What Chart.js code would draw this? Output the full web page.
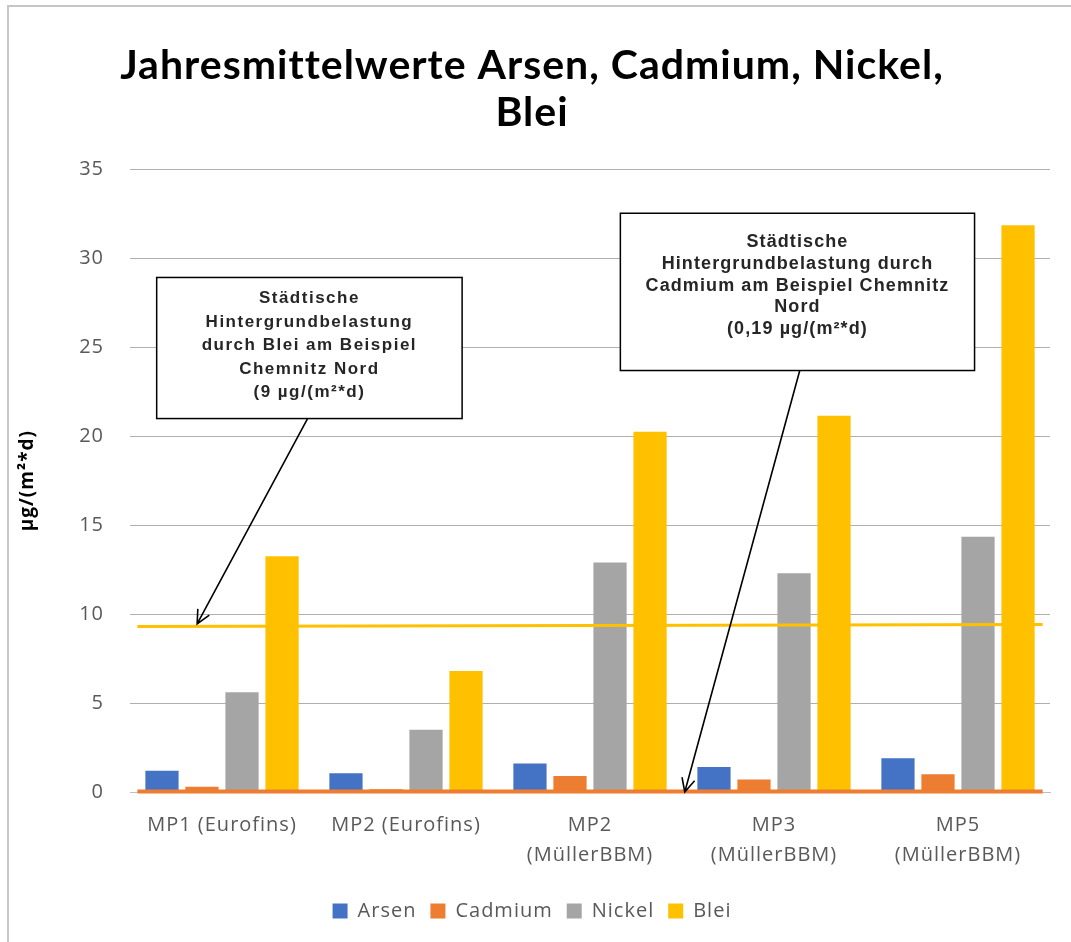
<!DOCTYPE html>
<html>
<head>
<meta charset="utf-8">
<script src="https://cdn.jsdelivr.net/npm/chart.js"></script>
<style>
  html, body { margin: 0; padding: 0; background: #fff; }
  #frame { position: absolute; left: 7px; top: 5px; width: 1100px; height: 960px;
           border-left: 2px solid #c6c6c6; border-top: 2px solid #c6c6c6; }
  #wrap { position: absolute; left: 0; top: 0; width: 1071px; height: 942px; }
</style>
</head>
<body>
<div id="frame"></div>
<div id="wrap"><canvas id="chart"></canvas></div>
<script>
// categories + series
const categories = ['MP1 (Eurofins)', 'MP2 (Eurofins)', ['MP2', '(MüllerBBM)'], ['MP3', '(MüllerBBM)'], ['MP5', '(MüllerBBM)']];
const arsen   = [1.2, 1.05, 1.6, 1.4, 1.9];
const cadmium = [0.3, 0.15, 0.9, 0.7, 1.0];
const nickel  = [5.6, 3.5, 12.9, 12.3, 14.35];
const blei    = [13.25, 6.8, 20.25, 21.15, 31.85];
// background lines (value at left end / right end of the plot)
const bleiBackground    = [9.3, 9.42];
const cadmiumBackground = [0.03, 0.03];
const yTicks = [0, 5, 10, 15, 20, 25, 30, 35];

const titleLines = ['Jahresmittelwerte Arsen, Cadmium, Nickel,', 'Blei'];

// callout boxes, x as fraction of plot width, y in data units
const callouts = [
  {
    lines: ['Städtische', 'Hintergrundbelastung', 'durch Blei am Beispiel', 'Chemnitz Nord', '(9 µg/(m²*d)'],
    left: 0.029, right: 0.361, top: 28.92, bottom: 20.99,
    from: [0.193, 20.99], to: [0.073, 9.45],
    firstLine: 21, lineGap: 23.5, font: 'bold 17px "Liberation Sans", Arial, sans-serif', spacing: '1.5px'
  },
  {
    lines: ['Städtische', 'Hintergrundbelastung durch', 'Cadmium am Beispiel Chemnitz', 'Nord', '(0,19 µg/(m²*d)'],
    left: 0.533, right: 0.918, top: 32.53, bottom: 23.69,
    from: [0.728, 23.69], to: [0.603, 0],
    firstLine: 29, lineGap: 21.7, font: 'bold 18px "Liberation Sans", Arial, sans-serif', spacing: '1.1px'
  }
];

const spacingPlugin = {
  id: 'spacing',
  beforeUpdate(chart) { chart.ctx.letterSpacing = '1px'; },
  beforeDraw(chart) { chart.ctx.letterSpacing = '1px'; }
};

// horizontal background lines, drawn over the bars
const backgroundLinesPlugin = {
  id: 'bgLines',
  afterDatasetsDraw(chart) {
    const ctx = chart.ctx;
    const a = chart.chartArea;
    const ys = chart.scales.y;
    const x0 = a.left + 0.008 * (a.right - a.left);
    const x1 = a.left + 0.992 * (a.right - a.left);
    ctx.save();
    ctx.lineCap = 'butt';
    ctx.beginPath();
    ctx.moveTo(x0, ys.getPixelForValue(cadmiumBackground[0]));
    ctx.lineTo(x1, ys.getPixelForValue(cadmiumBackground[1]));
    ctx.strokeStyle = '#ED7D31';
    ctx.lineWidth = 4;
    ctx.stroke();
    ctx.beginPath();
    ctx.moveTo(x0, ys.getPixelForValue(bleiBackground[0]));
    ctx.lineTo(x1, ys.getPixelForValue(bleiBackground[1]));
    ctx.strokeStyle = '#FFC000';
    ctx.lineWidth = 3;
    ctx.stroke();
    ctx.restore();
  }
};

const calloutPlugin = {
  id: 'callouts',
  afterDraw(chart) {
    const ctx = chart.ctx;
    const a = chart.chartArea;
    const ys = chart.scales.y;
    const px = f => a.left + f * (a.right - a.left);
    callouts.forEach(c => {
      const l = px(c.left), r = px(c.right);
      const t = ys.getPixelForValue(c.top), b = ys.getPixelForValue(c.bottom);
      ctx.save();
      ctx.fillStyle = '#fff';
      ctx.fillRect(l, t, r - l, b - t);
      ctx.strokeStyle = '#000';
      ctx.lineWidth = 1.5;
      ctx.strokeRect(l, t, r - l, b - t);
      ctx.fillStyle = '#262626';
      ctx.font = c.font;
      ctx.letterSpacing = c.spacing;
      ctx.textAlign = 'center';
      ctx.textBaseline = 'middle';
      c.lines.forEach((line, i) => {
        ctx.fillText(line, (l + r) / 2, t + c.firstLine + i * c.lineGap);
      });
      // arrow
      const x1 = px(c.from[0]), y1 = ys.getPixelForValue(c.from[1]);
      const x2 = px(c.to[0]), y2 = ys.getPixelForValue(c.to[1]);
      ctx.beginPath();
      ctx.moveTo(x1, y1);
      ctx.lineTo(x2, y2);
      const ang = Math.atan2(y2 - y1, x2 - x1);
      const hl = 15;
      ctx.moveTo(x2 - hl * Math.cos(ang - 0.45), y2 - hl * Math.sin(ang - 0.45));
      ctx.lineTo(x2, y2);
      ctx.lineTo(x2 - hl * Math.cos(ang + 0.45), y2 - hl * Math.sin(ang + 0.45));
      ctx.strokeStyle = '#000';
      ctx.lineWidth = 1.6;
      ctx.stroke();
      ctx.restore();
    });
  }
};

const labelFont = '"Open Sans", sans-serif';

new Chart(document.getElementById('chart'), {
  type: 'bar',
  data: {
    labels: categories,
    datasets: [
      { label: 'Arsen',   data: arsen,   backgroundColor: '#4472C4' },
      { label: 'Cadmium', data: cadmium, backgroundColor: '#ED7D31' },
      { label: 'Nickel',  data: nickel,  backgroundColor: '#A5A5A5' },
      { label: 'Blei',    data: blei,    backgroundColor: '#FFC000' }
    ]
  },
  options: {
    responsive: true,
    maintainAspectRatio: false,
    animation: false,
    categoryPercentage: 0.87,
    barPercentage: 0.83,
    layout: { padding: { left: 14, right: 21, top: 0, bottom: 11 } },
    plugins: {
      title: {
        display: true,
        text: titleLines,
        color: '#000',
        font: { family: 'Lato, sans-serif', size: 41, weight: 'bold', lineHeight: 1.15 },
        padding: { top: 42, bottom: 33 }
      },
      legend: {
        position: 'bottom',
        labels: {
          color: '#595959',
          font: { family: labelFont, size: 20 },
          boxWidth: 15,
          boxHeight: 15,
          padding: 14
        }
      },
      tooltip: { enabled: false }
    },
    scales: {
      x: {
        grid: { display: false },
        border: { color: '#bfbfbf' },
        ticks: {
          color: '#595959',
          font: { family: labelFont, size: 20, lineHeight: 1.5 },
          padding: 10,
          maxRotation: 0,
          autoSkip: false
        },
        afterFit: scale => { scale.height = 95; }
      },
      y: {
        min: 0,
        max: 35,
        afterBuildTicks: scale => { scale.ticks = yTicks.map(v => ({ value: v })); },
        grid: { color: '#b0b0b0', drawTicks: false },
        border: { display: false },
        ticks: {
          color: '#595959',
          font: { family: labelFont, size: 20 },
          padding: 26
        },
        title: {
          display: true,
          text: 'µg/(m²*d)',
          color: '#000',
          font: { family: labelFont, size: 19, weight: 'bold' },
          padding: 2
        },
        afterFit: scale => { scale.width = 116; }
      }
    }
  },
  plugins: [spacingPlugin, backgroundLinesPlugin, calloutPlugin]
});
</script>
</body>
</html>
